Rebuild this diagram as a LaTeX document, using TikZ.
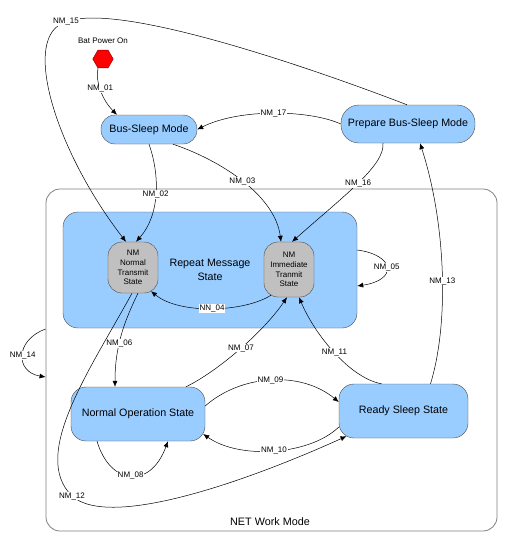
\documentclass[tikz,border=0pt]{standalone}
\usepackage{fontspec}
\setmainfont{Liberation Sans}
\usepackage{tikz}
\usetikzlibrary{shapes.geometric,arrows.meta}

\definecolor{stateblue}{HTML}{99CCFF}
\definecolor{stategray}{HTML}{C0C0C0}
\definecolor{borderdark}{HTML}{4A4A4A}

\begin{document}
\begin{tikzpicture}[x=1pt,y=-1pt,
    state/.style={draw=borderdark,fill=stateblue,rounded corners=15pt,inner sep=0pt,align=center,font=\fontsize{10.7}{13.3}\selectfont},
    substate/.style={draw=borderdark,fill=stategray,rounded corners=14pt,inner sep=0pt,align=center,minimum width=50pt,font=\fontsize{8}{9.7}\selectfont},
    trans/.style={-{Latex[length=6pt,width=5pt]},line width=0.5pt},
    lbl/.style={fill=white,inner sep=0.8pt,font=\fontsize{8}{9}\selectfont}]
    \useasboundingbox (0,0) rectangle (518,536);

      % CADRE NET WORK MODE
      \node[draw=gray,line width=0.8pt,rounded corners=14pt,minimum width=451pt,minimum height=342pt] (net) at (271.5,360) {};
      \node[font=\fontsize{10.8}{13}\selectfont] (netlbl) at (270,522) {NET Work Mode};

      % DEPART
      \node[regular polygon,regular polygon sides=6,draw=red!50!black,fill=red,minimum size=20.5pt,inner sep=0pt] (hex) at (103,59) {};
      \node[font=\fontsize{8}{9}\selectfont] (batlbl) at (103,41) {Bat Power On};

      % ETATS
      \node[state,minimum width=96pt,minimum height=29pt,rounded corners=14pt] (bus) at (149,129.5) {Bus-Sleep Mode};
      \node[state,minimum width=134pt,minimum height=38pt,rounded corners=18pt] (prep) at (408,124) {Prepare Bus-Sleep Mode};
      \node[state,minimum width=294pt,minimum height=116pt] (rep) at (210,270) {Repeat Message\\State};
      \node[substate,minimum height=51pt] (nmn) at (133,267.5) {NM\\Normal\\Transmit\\State};
      \node[substate,minimum height=55pt] (nmi) at (289,269.5) {NM\\Immediate\\Tranmit\\State};
      \node[state,minimum width=134pt,minimum height=54pt] (normop) at (138,414) {Normal Operation State};
      \node[state,minimum width=129pt,minimum height=54pt] (ready) at (403.5,411) {Ready Sleep State};

      % TRANSITIONS
      \draw[trans] ([xshift=-5pt]hex.south) .. controls +(-3,14) and +(-14,-14) .. ([xshift=-32pt]bus.north) node[lbl,pos=.45] {NM\_01};
      \draw[trans] ([xshift=-1pt]prep.north) .. controls (330,75) and (120,0) .. (66,22) node[lbl] {NM\_15}
            .. controls (20,35) and (55,150) .. ([xshift=-7pt]nmn.north);
      \draw[trans] (prep.west) .. controls (310,110) and (240,108) .. (bus.east) node[lbl,pos=.5] {NM\_17};
      \draw[trans] (bus.south) .. controls (160,175) and (160,215) .. ([xshift=3pt]nmn.north) node[lbl,pos=.5] {NM\_02};
      \draw[trans] ([xshift=24pt]bus.south) .. controls (220,160) and (275,195) .. ([xshift=-8pt]nmi.north) node[lbl,pos=.5] {NM\_03};
      \draw[trans] ([xshift=-25pt]prep.south) .. controls (385,165) and (345,195) .. ([xshift=3pt]nmi.north) node[lbl,pos=.5] {NM\_16};
      \draw[trans] ([yshift=20pt]rep.east) .. controls (395,255) and (398,280) .. ([yshift=-16pt]rep.east) node[lbl,pos=.5] {NM\_05};
      \draw[trans] ([xshift=-18pt,yshift=2pt]nmi.south) .. controls (245,312) and (180,315) .. ([xshift=18pt,yshift=2pt]nmn.south) node[lbl,pos=.5] {NN\_04};
      \draw[trans] ([xshift=5pt]nmn.south) .. controls (125,320) and (115,345) .. ([xshift=-23pt]normop.north) node[lbl,pos=.6] {NM\_06};
      \draw[trans] ([xshift=-1pt]nmn.south) .. controls (90,370) and (30,455) .. (72,496) node[lbl] {NM\_12}
            .. controls (110,530) and (250,480) .. ([xshift=-57pt,yshift=2pt]ready.south);
      \draw[trans] ([xshift=48pt]normop.north) .. controls (220,370) and (265,330) .. ([xshift=-2pt]nmi.south) node[lbl,pos=.5] {NM\_07};
      \draw[trans] ([xshift=-22pt]ready.north) .. controls (350,378) and (315,335) .. ([xshift=10pt]nmi.south) node[lbl,pos=.5] {NM\_11};
      \draw[trans] ([xshift=27pt]ready.north) .. controls (450,320) and (445,220) .. ([xshift=12pt]prep.south) node[lbl,pos=.45] {NM\_13};
      \draw[trans] ([yshift=8pt]normop.east) .. controls (240,375) and (300,370) .. ([yshift=9pt]ready.west) node[lbl,pos=.5] {NM\_09};
      \draw[trans] ([yshift=-16pt]ready.west) .. controls (310,455) and (240,460) .. ([xshift=-2pt,yshift=-20pt]normop.east) node[lbl,pos=.5] {NM\_10};
      \draw[trans] ([xshift=-41pt]normop.south) .. controls (110,485) and (150,490) .. ([xshift=30pt]normop.south) node[lbl,pos=.5] {NM\_08};
      \draw[trans] ([yshift=31pt]net.west) .. controls (15,340) and (15,372) .. ([yshift=-17pt]net.west) node[lbl,pos=.5] {NM\_14};
\end{tikzpicture}
\end{document}
